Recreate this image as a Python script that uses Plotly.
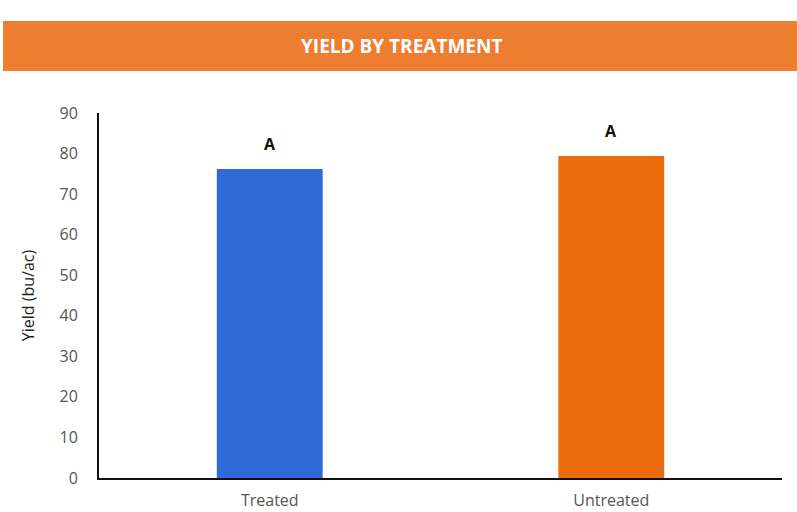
import plotly.graph_objects as go

# Yield data by treatment
treatments = ["Treated", "Untreated"]
yield_bu_ac = [76.2, 79.4]
letters = ["A", "A"]
bar_colors = ["#2F6AD8", "#EA6C0E"]

fig = go.Figure()
fig.add_trace(go.Bar(
    x=treatments,
    y=yield_bu_ac,
    marker=dict(color=bar_colors, line=dict(width=0)),
    width=0.31,
    hoverinfo="x+y",
))

# Mean-separation letters above each bar
for t, v, l in zip(treatments, yield_bu_ac, letters):
    fig.add_annotation(
        x=t, y=v, text=l, showarrow=False, yanchor="bottom", yshift=12,
        font=dict(family="Open Sans", size=16, color="#111111", weight="bold"),
    )

# Orange title banner
fig.add_shape(
    type="rect", xref="paper", yref="paper",
    x0=-0.1406, x1=1.03, y0=1.115, y1=1.252,
    fillcolor="#ED7D31", line=dict(width=0), layer="below",
)
fig.add_annotation(
    xref="paper", yref="paper", x=0.4436, y=1.1836,
    text="YIELD BY TREATMENT", showarrow=False,
    xanchor="center", yanchor="middle",
    font=dict(family="Open Sans", size=19, color="white", weight="bold"),
)

fig.update_layout(
    width=797, height=512,
    margin=dict(l=99, r=15, t=113, b=34, autoexpand=False),
    plot_bgcolor="white", paper_bgcolor="white",
    showlegend=False,
    bargap=0.69,
    xaxis=dict(
        automargin=False,
        showline=True, linecolor="#111111", linewidth=2,
        showgrid=False, ticks="", ticklabelstandoff=7,
        tickfont=dict(family="Open Sans", size=16, color="#555555"),
    ),
    yaxis=dict(
        automargin=False,
        range=[0, 90], tickvals=[0, 10, 20, 30, 40, 50, 60, 70, 80, 90],
        showline=True, linecolor="#111111", linewidth=2,
        showgrid=False, zeroline=False, ticks="", ticklabelstandoff=16,
        tickfont=dict(family="Open Sans", size=16, color="#555555"),
        title=dict(text="Yield (bu/ac)", standoff=21,
                   font=dict(family="Open Sans", size=16, color="#222222")),
    ),
)

fig.write_html("out.html")
